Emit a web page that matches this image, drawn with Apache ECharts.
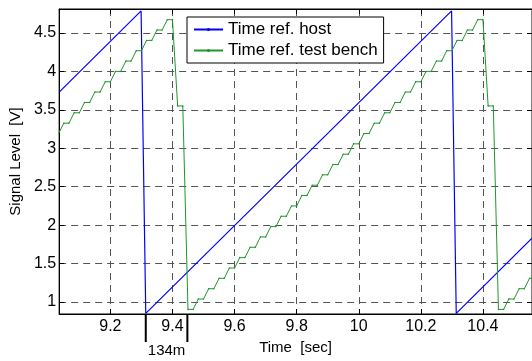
<!DOCTYPE html>
<html>
<head>
<meta charset="utf-8">
<script src="https://cdn.jsdelivr.net/npm/echarts@6/dist/echarts.min.js"></script>
<style>
  html, body { margin: 0; padding: 0; background: #fff; }
  #chart { width: 532px; height: 361px; }
</style>
</head>
<body>
<div id="chart"></div>
<script>
// host time reference: sawtooth
const hostTime = [9.035, 9.299, 9.314, 10.299, 10.314, 10.558];
const hostVolt = [3.73, 4.785, 0.853, 4.785, 0.853, 1.83];

// test bench time reference: staircase (flat + rise per step)
const benchTime = [
  9.0333, 9.0500, 9.0667, 9.0833, 9.1000, 9.1167, 9.1333, 9.1500, 9.1667, 9.1833,
  9.2000, 9.2167, 9.2333, 9.2500, 9.2667, 9.2833, 9.3000, 9.3167, 9.3333, 9.3500,
  9.3667, 9.3833, 9.4000, 9.4167, 9.4333, 9.4500,
  9.4667, 9.4833, 9.5000, 9.5167, 9.5333, 9.5500, 9.5667, 9.5833, 9.6000, 9.6167,
  9.6333, 9.6500, 9.6667, 9.6833, 9.7000, 9.7167, 9.7333, 9.7500, 9.7667, 9.7833,
  9.8000, 9.8167, 9.8333, 9.8500, 9.8667, 9.8833, 9.9000, 9.9167, 9.9333, 9.9500,
  9.9667, 9.9833, 10.0000, 10.0167, 10.0333, 10.0500, 10.0667, 10.0833, 10.1000, 10.1167,
  10.1333, 10.1500, 10.1667, 10.1833, 10.2000, 10.2167, 10.2333, 10.2500, 10.2667, 10.2833,
  10.3000, 10.3167, 10.3333, 10.3500, 10.3667, 10.3833, 10.4000, 10.4167, 10.4333, 10.4500,
  10.4667, 10.4833, 10.5000, 10.5167, 10.5333, 10.5500, 10.5667
];
const benchVolt = [
  3.192, 3.326, 3.326, 3.461, 3.461, 3.595, 3.595, 3.730, 3.730, 3.864,
  3.864, 3.999, 3.999, 4.133, 4.133, 4.268, 4.268, 4.402, 4.402, 4.537,
  4.537, 4.671, 4.671, 3.550, 3.550, 0.905,
  0.905, 1.040, 1.040, 1.174, 1.174, 1.309, 1.309, 1.443, 1.443, 1.578,
  1.578, 1.712, 1.712, 1.847, 1.847, 1.981, 1.981, 2.116, 2.116, 2.250,
  2.250, 2.385, 2.385, 2.519, 2.519, 2.654, 2.654, 2.788, 2.788, 2.923,
  2.923, 3.057, 3.057, 3.192, 3.192, 3.326, 3.326, 3.461, 3.461, 3.595,
  3.595, 3.730, 3.730, 3.864, 3.864, 3.999, 3.999, 4.133, 4.133, 4.268,
  4.268, 4.402, 4.402, 4.537, 4.537, 4.671, 4.671, 3.550, 3.550, 0.905,
  0.905, 1.040, 1.040, 1.174, 1.174, 1.309, 1.309
];

const seriesNames = ['Time ref. host', 'Time ref. test bench'];
const xRange = [9.035, 10.558];
const yRange = [0.845, 4.81];
const xStep = 0.2;
const yStep = 0.5;

// delay annotation below the x axis
const delayMarks = [9.314, 9.448];
const delayLabel = '134m';

const FONT = '"Liberation Sans", Arial, Helvetica, sans-serif';
const chart = echarts.init(document.getElementById('chart'));

const zip = (a, b) => a.map((v, i) => [v, b[i]]);
const gridDash = { type: [7, 5], color: '#555', width: 1 };
const black = { color: '#000', width: 1 };

const option = {
  animation: false,
  grid: { left: 56, top: 9, right: 0, bottom: 47, show: true, borderColor: '#000', borderWidth: 1 },
  legend: {
    orient: 'vertical',
    left: 187,
    top: 17,
    padding: [4, 6, 4, 6],
    itemGap: 4,
    itemWidth: 29,
    itemHeight: 4,
    backgroundColor: '#fff',
    borderColor: '#000',
    borderWidth: 1,
    borderRadius: 0,
    textStyle: { fontSize: 17, color: '#000', fontFamily: FONT },
    data: seriesNames
  },
  xAxis: [
    {
      type: 'value', min: xRange[0], max: xRange[1], minInterval: xStep, maxInterval: xStep,
      position: 'bottom',
      name: 'Time  [sec]', nameLocation: 'middle', nameGap: 23,
      nameTextStyle: { fontSize: 15, color: '#000', fontFamily: FONT },
      axisLine: { lineStyle: black },
      axisTick: { inside: true, length: 5, lineStyle: black },
      axisLabel: { color: '#000', fontSize: 16, fontFamily: FONT, margin: 5, showMinLabel: false, showMaxLabel: false },
      splitLine: { show: true, showMinLine: false, showMaxLine: false, lineStyle: gridDash }
    },
    {
      type: 'value', min: xRange[0], max: xRange[1], minInterval: xStep, maxInterval: xStep,
      position: 'top',
      axisLine: { lineStyle: black },
      axisTick: { inside: true, length: 5, lineStyle: black },
      axisLabel: { show: false },
      splitLine: { show: false }
    }
  ],
  yAxis: [
    {
      type: 'value', min: yRange[0], max: yRange[1], minInterval: yStep, maxInterval: yStep,
      position: 'left',
      name: 'Signal Level  [V]', nameLocation: 'middle', nameGap: 33,
      nameTextStyle: { fontSize: 15, color: '#000', fontFamily: FONT },
      axisLine: { lineStyle: black },
      axisTick: { inside: true, length: 5, lineStyle: black },
      axisLabel: { color: '#000', fontSize: 16, fontFamily: FONT, margin: 3, showMinLabel: false, showMaxLabel: false },
      splitLine: { show: true, showMinLine: false, showMaxLine: false, lineStyle: gridDash }
    },
    {
      type: 'value', min: yRange[0], max: yRange[1], minInterval: yStep, maxInterval: yStep,
      position: 'right',
      axisLine: { lineStyle: black },
      axisTick: { inside: true, length: 5, lineStyle: black },
      axisLabel: { show: false },
      splitLine: { show: false }
    }
  ],
  series: [
    {
      name: seriesNames[0],
      type: 'line',
      data: zip(hostTime, hostVolt),
      symbol: 'none',
      clip: true,
      lineStyle: { color: '#0000ff', width: 1.2 },
      itemStyle: { color: '#0000ff' }
    },
    {
      name: seriesNames[1],
      type: 'line',
      data: zip(benchTime, benchVolt),
      symbol: 'circle',
      symbolSize: 1.5,
      showAllSymbol: true,
      clip: true,
      lineStyle: { color: '#22962a', width: 1 },
      itemStyle: { color: '#22962a' }
    }
  ]
};
chart.setOption(option);

// place the delay markers through the axis scale
const yBottom = chart.convertToPixel({ yAxisIndex: 0 }, yRange[0]);
const px = delayMarks.map(t => chart.convertToPixel({ xAxisIndex: 0 }, t));
chart.setOption({
  graphic: [
    ...px.map(x => ({
      type: 'line',
      shape: { x1: x, y1: yBottom, x2: x, y2: yBottom + 28 },
      style: { stroke: '#000', lineWidth: 2 }
    })),
    {
      type: 'text',
      x: (px[0] + px[1]) / 2,
      y: yBottom + 29,
      style: { text: delayLabel, fill: '#000', font: '15px ' + FONT, textAlign: 'center', textVerticalAlign: 'top' }
    }
  ]
});
</script>
</body>
</html>
